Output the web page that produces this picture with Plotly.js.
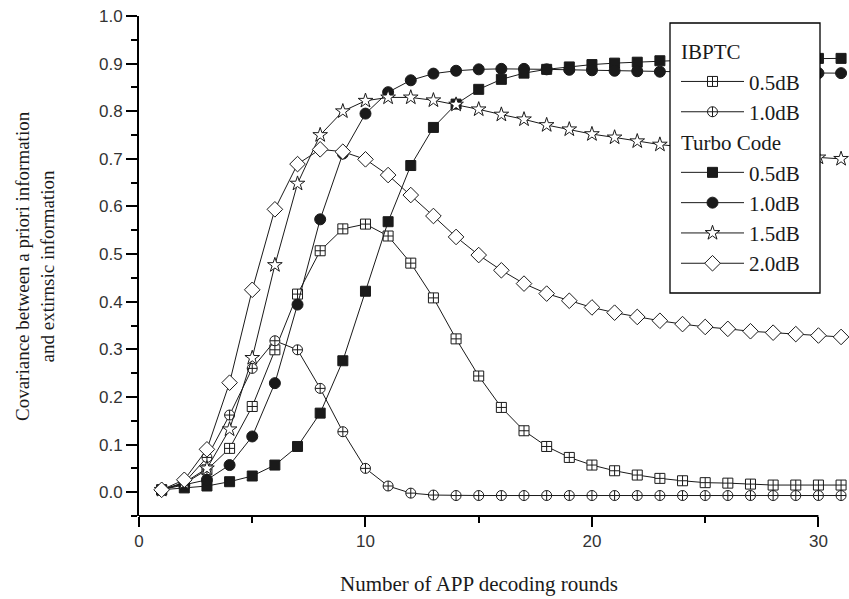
<!DOCTYPE html>
<html>
<head>
<meta charset="utf-8">
<script src="https://cdn.plot.ly/plotly-3.0.1.min.js"></script>
<style>html,body{margin:0;padding:0;background:#fff;}#chart{width:849px;height:599px;}</style>
</head>
<body>
<div id="chart"></div>
<script>
const rounds = [1,2,3,4,5,6,7,8,9,10,11,12,13,14,15,16,17,18,19,20,21,22,23,24,25,26,27,28,29,30,31];
const ibptc05 = [0.005,0.018,0.047,0.092,0.180,0.299,0.416,0.507,0.553,0.563,0.538,0.481,0.408,0.322,0.244,0.178,0.129,0.096,0.073,0.057,0.045,0.036,0.029,0.024,0.020,0.019,0.017,0.015,0.015,0.015,0.015];
const ibptc10 = [0.005,0.020,0.073,0.162,0.260,0.318,0.299,0.218,0.127,0.050,0.013,-0.002,-0.006,-0.007,-0.007,-0.007,-0.007,-0.007,-0.007,-0.007,-0.007,-0.007,-0.007,-0.007,-0.007,-0.007,-0.007,-0.007,-0.007,-0.007,-0.007];
const turbo05 = [0.005,0.009,0.013,0.022,0.034,0.057,0.096,0.166,0.276,0.422,0.568,0.686,0.766,0.815,0.846,0.867,0.880,0.888,0.893,0.898,0.901,0.903,0.906,0.907,0.908,0.909,0.909,0.910,0.910,0.911,0.911];
const turbo10 = [0.005,0.015,0.026,0.057,0.117,0.229,0.394,0.573,0.711,0.795,0.840,0.865,0.879,0.885,0.888,0.889,0.889,0.888,0.887,0.886,0.885,0.884,0.883,0.882,0.882,0.881,0.881,0.881,0.880,0.880,0.880];
const turbo15 = [0.005,0.020,0.050,0.132,0.282,0.477,0.648,0.750,0.800,0.822,0.829,0.829,0.823,0.814,0.804,0.793,0.783,0.771,0.762,0.752,0.745,0.737,0.730,0.725,0.720,0.716,0.712,0.709,0.706,0.703,0.700];
const turbo20 = [0.005,0.026,0.090,0.230,0.425,0.594,0.689,0.720,0.715,0.699,0.666,0.624,0.580,0.536,0.498,0.466,0.438,0.417,0.402,0.388,0.377,0.368,0.360,0.353,0.347,0.343,0.338,0.335,0.332,0.329,0.326];
const xTicks = [0,10,20,30];
const xMinorTicks = [5,15,25];
const groupNames = ['IBPTC','Turbo Code'];
const seriesNames = ['0.5dB','1.0dB','0.5dB','1.0dB','1.5dB','2.0dB'];

const serif = 'Liberation Serif, Times New Roman, serif';
const sans = 'Liberation Sans, Arial, sans-serif';
const ink = '#1a1a1a';

// plot-area pixel helpers (layout only)
const L = 139, W = 710, T = 16, H = 500;
const px = v => (v - L) / W;
const py = v => (T + H - v) / H;

function mk(y, name, group, symbol, size, fill, showTitle) {
  const t = {
    x: rounds, y: y, name: name, type: 'scatter', mode: 'lines+markers',
    legendgroup: group,
    line: {color: ink, width: 1},
    marker: {symbol: symbol, size: size, color: fill, line: {color: ink, width: 1}}
  };
  if (showTitle) t.legendgrouptitle = {text: group, font: {family: serif, size: 21, color: ink}};
  return t;
}

const data = [
  mk(ibptc05, seriesNames[0], groupNames[0], 'square-cross', 10, '#fff', true),
  mk(ibptc10, seriesNames[1], groupNames[0], 'circle-cross', 10, '#fff', false),
  mk(turbo05, seriesNames[2], groupNames[1], 'square', 10, ink, true),
  mk(turbo10, seriesNames[3], groupNames[1], 'circle', 11, ink, false),
  mk(turbo15, seriesNames[4], groupNames[1], 'star', 11, '#fff', false),
  mk(turbo20, seriesNames[5], groupNames[1], 'diamond', 12, '#fff', false)
];

const layout = {
  width: 849, height: 599,
  margin: {l: L, r: 849 - L - W, t: T, b: 599 - T - H},
  paper_bgcolor: '#fff', plot_bgcolor: '#fff',
  showlegend: true,
  xaxis: {
    range: [0, 31.35], showgrid: false, zeroline: false, showline: false,
    tickvals: xTicks, ticks: 'outside', ticklen: 10, tickwidth: 2, tickcolor: '#000',
    tickfont: {family: sans, size: 17, color: '#333'},
    minor: {tickvals: xMinorTicks, ticks: 'outside', ticklen: 6, tickwidth: 2, tickcolor: '#000'},
    automargin: false, fixedrange: true
  },
  yaxis: {
    range: [-0.05, 1.0], showgrid: false, zeroline: false, showline: true, linecolor: '#000', linewidth: 2,
    dtick: 0.1, tick0: 0, tickformat: '.1f', ticks: 'outside', ticklen: 11, tickwidth: 2, tickcolor: '#000',
    tickfont: {family: sans, size: 17, color: '#333'},
    minor: {dtick: 0.05, tick0: 0, ticks: 'outside', ticklen: 6, tickwidth: 2, tickcolor: '#000'},
    automargin: false, fixedrange: true
  },
  shapes: [
    {type: 'line', xref: 'x', yref: 'paper', x0: 0, x1: 30, y0: 0, y1: 0, line: {color: '#000', width: 2}},
    {type: 'rect', xref: 'paper', yref: 'paper', x0: px(670), x1: px(820), y0: py(293), y1: py(23),
     fillcolor: '#fff', line: {color: '#000', width: 1.3}, layer: 'above'}
  ],
  annotations: [
    {text: 'Number of APP decoding rounds', xref: 'x', yref: 'paper', x: 15, y: py(584),
     xanchor: 'center', yanchor: 'middle', showarrow: false, font: {family: serif, size: 21, color: ink}},
    {text: 'Covariance between a priori information<br>and extirnsic information', xref: 'paper', yref: 'paper',
     x: px(35), y: 0.5, xanchor: 'center', yanchor: 'middle', textangle: -90, showarrow: false,
     font: {family: serif, size: 19, color: ink}}
  ],
  legend: {
    x: px(676), y: py(31), xanchor: 'left', yanchor: 'top',
    bgcolor: 'rgba(0,0,0,0)', borderwidth: 0,
    font: {family: serif, size: 21, color: ink},
    tracegroupgap: 0, itemwidth: 63, traceorder: 'grouped'
  }
};

Plotly.newPlot('chart', data, layout, {displayModeBar: false, staticPlot: true});
</script>
</body>
</html>
